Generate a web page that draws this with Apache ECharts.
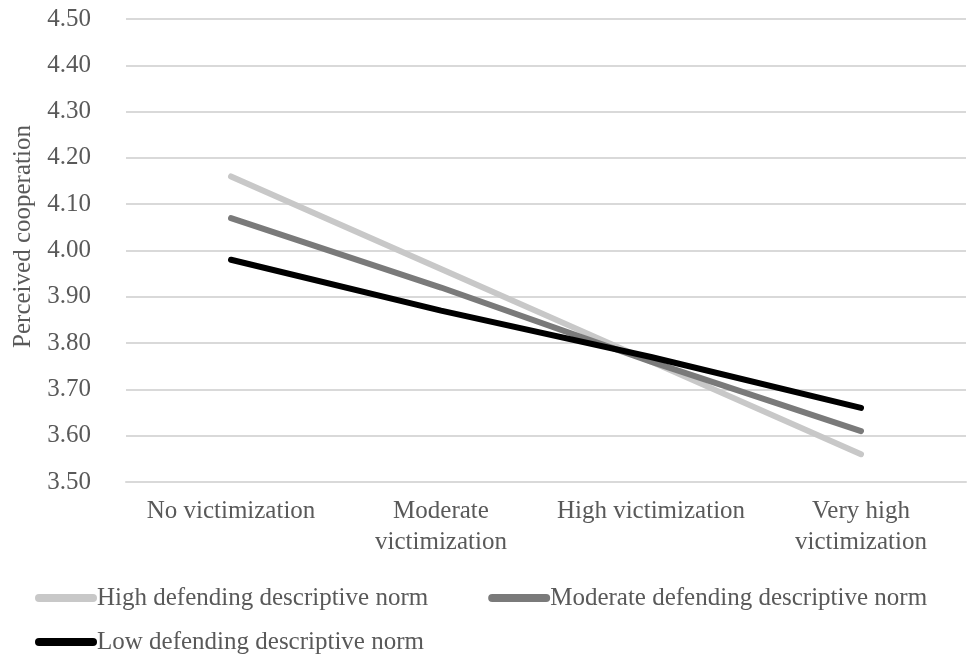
<!DOCTYPE html>
<html>
<head>
<meta charset="utf-8">
<script src="https://cdn.jsdelivr.net/npm/echarts@6/dist/echarts.min.js"></script>
<style>html,body{margin:0;padding:0;background:#fff;}#c{width:967px;height:659px;}</style>
</head>
<body>
<div id="c"></div>
<script>
var categories = ['No victimization', 'Moderate\nvictimization', 'High victimization', 'Very high\nvictimization'];
var seriesNames = ['High defending descriptive norm', 'Moderate defending descriptive norm', 'Low defending descriptive norm'];
var highNorm = [4.16, 3.96, 3.76, 3.56];
var moderateNorm = [4.07, 3.92, 3.76, 3.61];
var lowNorm = [3.98, 3.87, 3.77, 3.66];
var yTicks = { min: 3.5, max: 4.5, interval: 0.1 };
var yTitle = 'Perceived cooperation';

var FONT = 'Liberation Serif';
var TXT = '#595959';
var colors = ['#c8c8c8', '#7a7a7a', '#000000'];
var pill = 'path://M4,0 L58,0 A4,4 0 0 1 58,8 L4,8 A4,4 0 0 1 4,0 Z';

var chart = echarts.init(document.getElementById('c'));
function mkSeries(name, data, color) {
  return {
    name: name, type: 'line', data: data, symbol: 'none', showSymbol: false,
    lineStyle: { color: color, width: 6, cap: 'round' },
    itemStyle: { color: color }
  };
}
chart.setOption({
  animation: false,
  grid: { left: 126, right: 1, top: 19, height: 463, containLabel: false, outerBoundsMode: 'none' },
  xAxis: {
    type: 'category', data: categories, boundaryGap: true,
    axisLine: { show: true, lineStyle: { color: '#d9d9d9', width: 2 } },
    axisTick: { show: false },
    axisLabel: { color: TXT, fontFamily: FONT, fontSize: 25, lineHeight: 31, margin: 14, interval: 0 },
    splitLine: { show: false }
  },
  yAxis: {
    type: 'value', min: yTicks.min, max: yTicks.max, interval: yTicks.interval,
    name: yTitle, nameLocation: 'middle', nameGap: 90, nameRotate: 90,
    nameTextStyle: { color: TXT, fontFamily: FONT, fontSize: 25, padding: [0, 0, 0, 28] },
    axisLine: { show: false }, axisTick: { show: false },
    axisLabel: { color: TXT, fontFamily: FONT, fontSize: 25, margin: 35, formatter: function (v) { return v.toFixed(2); } },
    splitLine: { lineStyle: { color: '#d9d9d9', width: 2 } }
  },
  legend: [
    { data: [seriesNames[0], seriesNames[1]], left: 35, top: 584, padding: 0, itemGap: 60, itemWidth: 62, itemHeight: 8, icon: pill,
      textStyle: { color: TXT, fontFamily: FONT, fontSize: 25, lineHeight: 28, padding: [0, 0, 0, -5] } },
    { data: [seriesNames[2]], left: 35, top: 628, padding: 0, itemWidth: 62, itemHeight: 8, icon: pill,
      textStyle: { color: TXT, fontFamily: FONT, fontSize: 25, lineHeight: 28, padding: [0, 0, 0, -5] } }
  ],
  series: [
    mkSeries(seriesNames[0], highNorm, colors[0]),
    mkSeries(seriesNames[1], moderateNorm, colors[1]),
    mkSeries(seriesNames[2], lowNorm, colors[2])
  ]
});
</script>
</body>
</html>
